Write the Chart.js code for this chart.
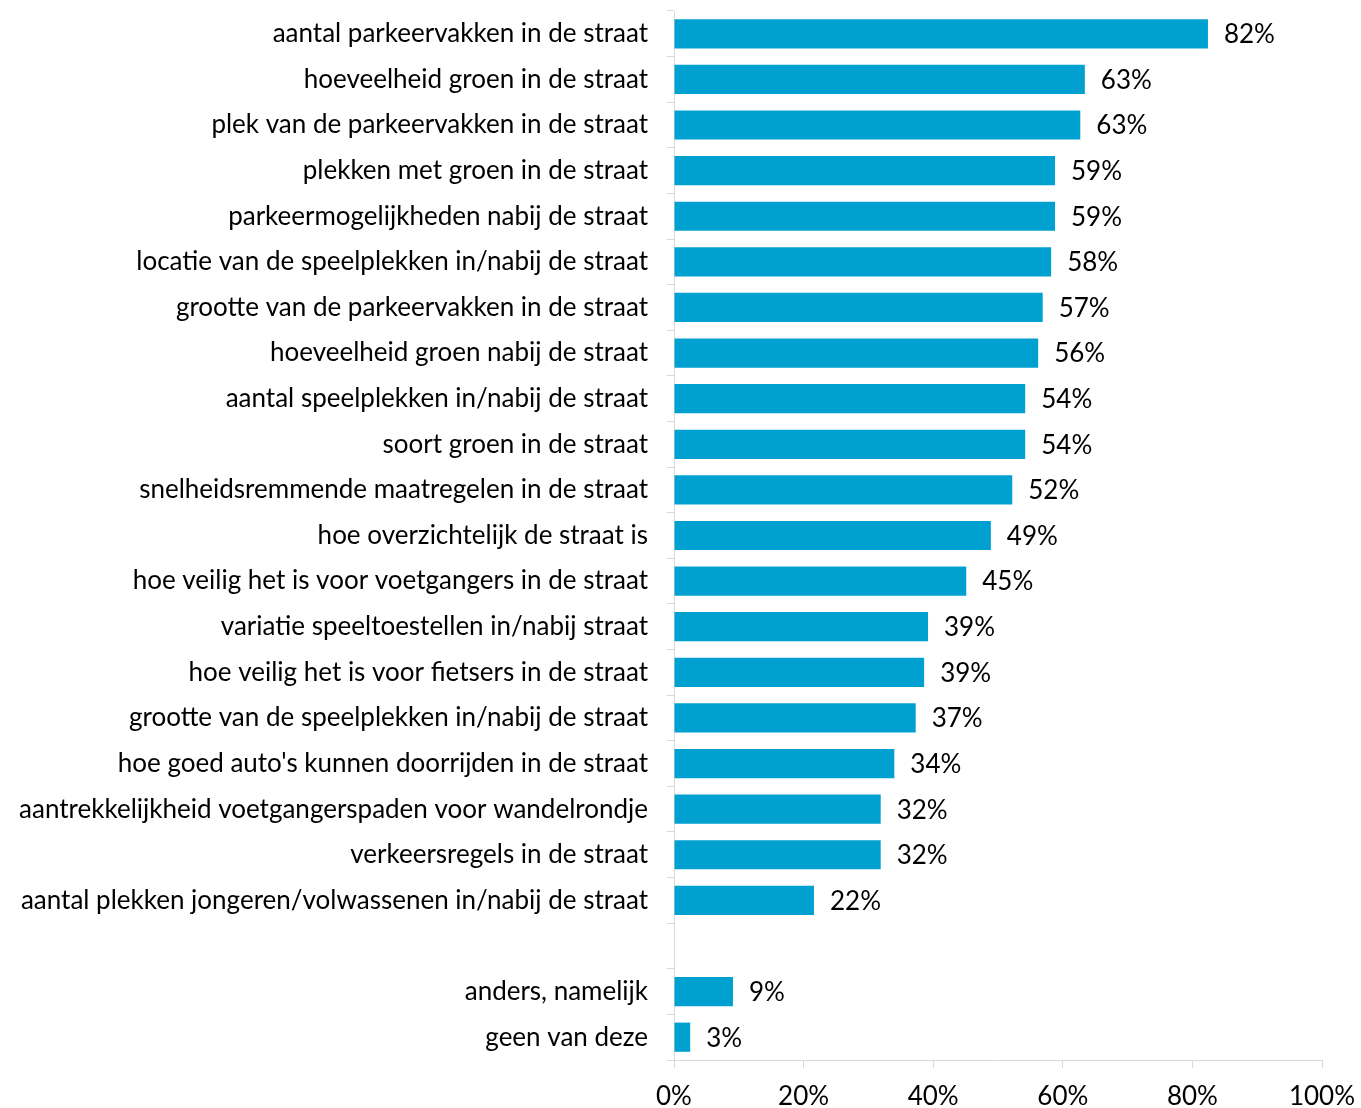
<!DOCTYPE html>
<html>
<head>
<meta charset="utf-8">
<script src="https://cdn.jsdelivr.net/npm/chart.js@4.4.0/dist/chart.umd.min.js"></script>
<style>
    html, body { margin: 0; padding: 0; background: #fff; }
    #wrap { width: 1361px; height: 1108px; }
</style>
</head>
<body>
<div id="wrap"><canvas id="chart" width="1361" height="1108"></canvas></div>
<script>
// categories top to bottom, '' is the empty spacer row
const categories = [
    'aantal parkeervakken in de straat',
    'hoeveelheid groen in de straat',
    'plek van de parkeervakken in de straat',
    'plekken met groen in de straat',
    'parkeermogelijkheden nabij de straat',
    'locatie van de speelplekken in/nabij de straat',
    'grootte van de parkeervakken in de straat',
    'hoeveelheid groen nabij de straat',
    'aantal speelplekken in/nabij de straat',
    'soort groen in de straat',
    'snelheidsremmende maatregelen in de straat',
    'hoe overzichtelijk de straat is',
    'hoe veilig het is voor voetgangers in de straat',
    'variatie speeltoestellen in/nabij straat',
    'hoe veilig het is voor fietsers in de straat',
    'grootte van de speelplekken in/nabij de straat',
    "hoe goed auto's kunnen doorrijden in de straat",
    'aantrekkelijkheid voetgangerspaden voor wandelrondje',
    'verkeersregels in de straat',
    'aantal plekken jongeren/volwassenen in/nabij de straat',
    '',
    'anders, namelijk',
    'geen van deze'
];

// share in percent (bar lengths)
const values = [82.4, 63.4, 62.7, 58.8, 58.8, 58.2, 56.9, 56.2, 54.2, 54.2, 52.2, 48.9, 45.1,
    39.2, 38.6, 37.3, 34.0, 31.9, 31.9, 21.6, null, 9.1, 2.5];

// printed labels next to the bars
const valueLabels = ['82%', '63%', '63%', '59%', '59%', '58%', '57%', '56%', '54%', '54%', '52%',
    '49%', '45%', '39%', '39%', '37%', '34%', '32%', '32%', '22%', '', '9%', '3%'];

const xTicks = [0, 20, 40, 60, 80, 100];

const FONT = 'Lato, "Open Sans", sans-serif';
const FONT_SIZE = 26;
const barColor = '#00A1D1';
const axisColor = '#d9d9d9';

const barLabels = {
    id: 'barLabels',
    afterDatasetsDraw(chart) {
        const ctx = chart.ctx;
        const meta = chart.getDatasetMeta(0);
        ctx.save();
        ctx.font = FONT_SIZE + 'px ' + FONT;
        ctx.fillStyle = '#000';
        ctx.textAlign = 'left';
        ctx.textBaseline = 'middle';
        meta.data.forEach((bar, i) => {
            if (!valueLabels[i]) return;
            ctx.fillText(valueLabels[i], bar.x + 16, bar.y + 1);
        });
        ctx.restore();
    }
};

const ctx = document.getElementById('chart').getContext('2d');
new Chart(ctx, {
    type: 'bar',
    data: {
        labels: categories,
        datasets: [{
            data: values,
            backgroundColor: barColor,
            borderWidth: 0,
            barPercentage: 0.64,
            categoryPercentage: 1
        }]
    },
    options: {
        indexAxis: 'y',
        responsive: false,
        animation: false,
        layout: { padding: { top: 11, right: 39, left: 0, bottom: 0 } },
        plugins: {
            legend: { display: false },
            tooltip: { enabled: false }
        },
        scales: {
            x: {
                min: 0,
                max: 100,
                afterBuildTicks: scale => { scale.ticks = xTicks.map(v => ({ value: v })); },
                afterFit: scale => {
                    scale.height = 48;
                    scale.paddingLeft = 0;
                    scale.paddingRight = 0;
                },
                grid: {
                    drawOnChartArea: false,
                    drawTicks: true,
                    tickLength: 8,
                    color: axisColor
                },
                border: { display: true, color: axisColor, width: 1 },
                ticks: {
                    font: { family: FONT, size: FONT_SIZE },
                    color: '#000',
                    padding: 13,
                    callback: v => v + '%'
                }
            },
            y: {
                afterFit: scale => {
                    scale.width = 674;
                    scale.paddingTop = 0;
                    scale.paddingBottom = 0;
                },
                grid: {
                    drawOnChartArea: false,
                    drawTicks: true,
                    tickLength: 7,
                    offset: true,
                    color: axisColor
                },
                border: { display: true, color: axisColor, width: 1 },
                ticks: {
                    font: { family: FONT, size: FONT_SIZE },
                    color: '#000',
                    padding: 19,
                    autoSkip: false
                }
            }
        }
    },
    plugins: [barLabels]
});
</script>
</body>
</html>
